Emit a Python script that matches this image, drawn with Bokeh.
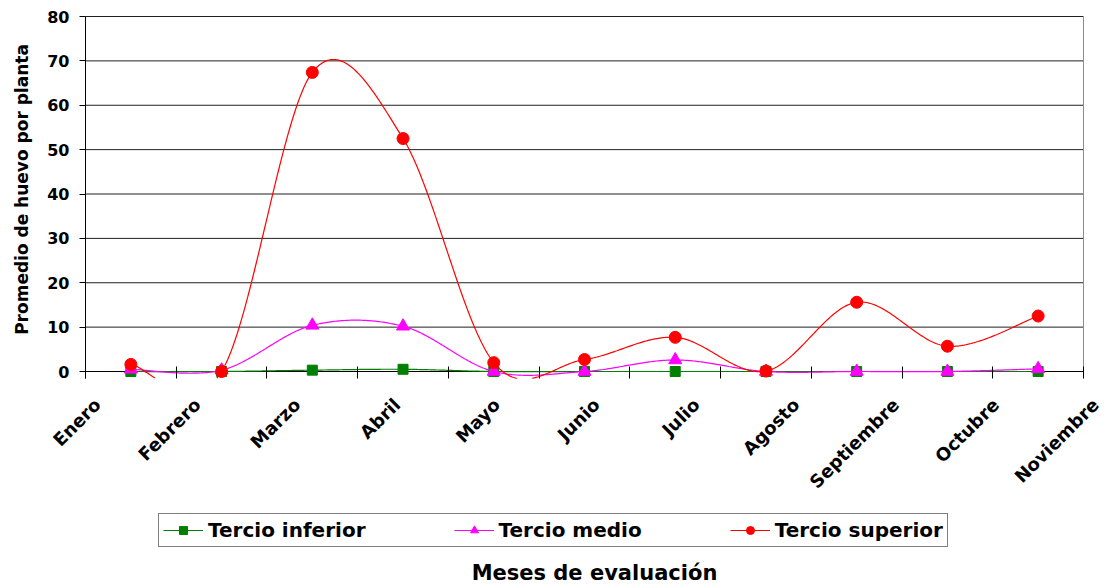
import numpy as np
from math import pi
from bokeh.plotting import figure
from bokeh.models import Range1d, FixedTicker, Legend, LegendItem
from bokeh.core.properties import value
from bokeh.embed import file_html
from bokeh.resources import INLINE

# ---------------- data ----------------
meses = ["Enero", "Febrero", "Marzo", "Abril", "Mayo", "Junio", "Julio",
         "Agosto", "Septiembre", "Octubre", "Noviembre"]
tercio_inferior = [0, 0, 0.3, 0.5, 0, 0, 0, 0, 0, 0, 0]
tercio_medio = [0.5, 0.3, 10.4, 10.2, 0, 0, 2.6, 0, 0, 0, 0.6]
tercio_superior = [1.6, 0, 67.4, 52.5, 2.0, 2.7, 7.7, 0.1, 15.6, 5.7, 12.5]
y_ticks = [0, 10, 20, 30, 40, 50, 60, 70, 80]
y_title = "Promedio de huevo por planta"
x_title = "Meses de evaluación"

# ---------------- layout constants (pixels) ----------------
FONT = "DejaVu Sans"
W, H = 1104, 583
PLOT_LEFT_PX = 85            # left edge of plot area
PLOT_TOP_PX = 16             # pixel row of the top value (80)
PX_PER_CAT = 998 / 11.0
PX_PER_UNIT = 355 / 80.0

xs = np.arange(1, len(meses) + 1, dtype=float)
boundaries = [float(x - 0.5) for x in xs] + [float(xs[-1] + 0.5)]
cat_start, cat_end = boundaries[0], boundaries[-1]


def px_to_x(px):
    return cat_start + (px - PLOT_LEFT_PX) / PX_PER_CAT


def py_to_y(py):
    return y_ticks[-1] - (py - PLOT_TOP_PX) / PX_PER_UNIT


x_lo, x_hi = px_to_x(0), px_to_x(W)
y_hi, y_lo = py_to_y(0), py_to_y(H)
Y_AXIS_BOTTOM = py_to_y(PLOT_TOP_PX + 362)   # category axis sits 7 px under zero

# category labels (anchored at their right end, spaced slightly wider)
label_pos = [round(px_to_x(97 + 99.8 * i), 4) for i in range(len(meses))]


def bezier_smooth(xv, yv, steps=60):
    xv = np.asarray(xv, float)
    yv = np.asarray(yv, float)
    n = len(xv)
    t = np.linspace(0, 1, steps)
    px, py = [], []
    for i in range(n - 1):
        i0 = max(i - 1, 0)
        i3 = min(i + 2, n - 1)
        for arr, out in ((xv, px), (yv, py)):
            p0, p1, p2, p3 = arr[i0], arr[i], arr[i + 1], arr[i3]
            c1 = p1 + (p2 - p0) / 6.0
            c2 = p2 - (p3 - p1) / 6.0
            seg = ((1 - t) ** 3 * p1 + 3 * (1 - t) ** 2 * t * c1
                   + 3 * (1 - t) * t ** 2 * c2 + t ** 3 * p2)
            out.extend(seg if i == 0 else seg[1:])
    px = np.array(px)
    py = np.array(py)
    py[py < Y_AXIS_BOTTOM] = np.nan     # clipped like the original plot area
    return px, py


p = figure(width=W, height=H,
           x_range=Range1d(x_lo, x_hi), y_range=Range1d(y_lo, y_hi),
           output_backend="svg", toolbar_location=None,
           min_border_left=0, min_border_right=0,
           min_border_top=0, min_border_bottom=0)
p.outline_line_color = None
p.xgrid.visible = False
p.ygrid.visible = False
p.background_fill_color = "white"

# gridlines limited to the plot area
grid_vals = y_ticks[1:]
p.segment(x0=[cat_start] * len(grid_vals), x1=[cat_end] * len(grid_vals),
          y0=grid_vals, y1=grid_vals, line_color="#202020", line_width=1)
# right border of plot area
p.segment(x0=[cat_end], x1=[cat_end], y0=[y_ticks[0]], y1=[y_ticks[-1]],
          line_color="#8c8c8c", line_width=1)
# horizontal category axis line at zero
p.segment(x0=[cat_start], x1=[cat_end], y0=[0], y1=[0],
          line_color="black", line_width=1)

# ---------------- series ----------------
series = [
    ("Tercio inferior", tercio_inferior, "#008000", "square", 10),
    ("Tercio medio", tercio_medio, "#FF00FF", "triangle", 13),
    ("Tercio superior", tercio_superior, "#FF0000", "circle", 12),
]
items = []
for name, vals, col, mk, sz in series:
    sx, sy = bezier_smooth(xs, vals)
    ln = p.line(sx, sy, line_color=col, line_width=1.2)
    sc = p.scatter(list(xs), vals, marker=mk, size=sz, fill_color=col, line_color=col)
    items.append(LegendItem(label=name, renderers=[ln, sc]))

# ---------------- axes ----------------
xa = p.xaxis[0]
xa.fixed_location = Y_AXIS_BOTTOM
xa.bounds = (cat_start, px_to_x(1098))
xa.ticker = FixedTicker(ticks=label_pos, minor_ticks=boundaries)
xa.major_label_overrides = {k: v for k, v in zip(label_pos, meses)}
xa.major_label_orientation = pi / 4
xa.axis_line_color = None
xa.major_tick_line_color = None
xa.major_tick_in = 0
xa.major_tick_out = 0
xa.minor_tick_in = 12
xa.minor_tick_out = 0
xa.minor_tick_line_color = "black"
xa.major_label_standoff = 23
xa.major_label_text_font = FONT
xa.major_label_text_font_style = "bold"
xa.major_label_text_font_size = "18px"
xa.major_label_text_color = "black"

ya = p.yaxis[0]
ya.fixed_location = cat_start
ya.bounds = (Y_AXIS_BOTTOM, y_ticks[-1])
ya.ticker = FixedTicker(ticks=y_ticks)
ya.axis_line_color = "black"
ya.major_tick_line_color = "black"
ya.major_tick_in = 0
ya.major_tick_out = 6
ya.minor_tick_line_color = None
ya.major_label_standoff = 10
ya.major_label_text_font = FONT
ya.major_label_text_font_style = "bold"
ya.major_label_text_font_size = "16px"
ya.major_label_text_color = "black"

# axis titles
p.text(x=[px_to_x(21)], y=[py_to_y(189)], text=[y_title], angle=pi / 2,
       text_align="center", text_baseline="middle",
       text_font=value(FONT), text_font_style="bold", text_font_size="17px",
       text_color="black")
p.text(x=[px_to_x(594)], y=[py_to_y(572)], text=[x_title],
       text_align="center", text_baseline="middle",
       text_font=value(FONT), text_font_style="bold", text_font_size="21px",
       text_color="black")

# ---------------- legend ----------------
legend = Legend(items=items, orientation="horizontal", location=(158, 36),
                spacing=88, padding=4, margin=0, glyph_width=40, glyph_height=20,
                label_height=20, label_standoff=5,
                label_text_font=FONT, label_text_font_style="bold",
                label_text_font_size="20px", label_text_color="black",
                border_line_color="black", border_line_width=1,
                background_fill_color="white", background_fill_alpha=1)
p.add_layout(legend)

open("out.html", "w").write(file_html(p, INLINE))
